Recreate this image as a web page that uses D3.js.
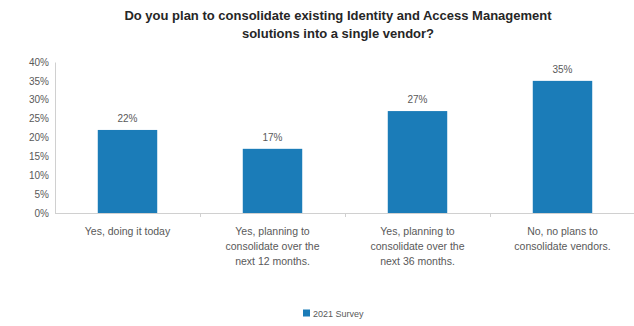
<!DOCTYPE html>
<html>
<head>
<meta charset="utf-8">
<script src="https://cdn.jsdelivr.net/npm/d3@7"></script>
<style>
    body { margin: 0; background: #fff; }
    text { font-family: Arial, "Liberation Sans", sans-serif; }
</style>
</head>
<body>
<svg id="chart" width="634" height="326"></svg>
<script>
// chart data
const categories = [
    ['Yes, doing it today'],
    ['Yes, planning to', 'consolidate over the', 'next 12 months.'],
    ['Yes, planning to', 'consolidate over the', 'next 36 months.'],
    ['No, no plans to', 'consolidate vendors.']
];
const values = [22, 17, 27, 35];
const yTicks = [0, 5, 10, 15, 20, 25, 30, 35, 40];
const titleLines = [
    'Do you plan to consolidate existing Identity and Access Management',
    'solutions into a single vendor?'
];
const seriesName = '2021 Survey';

const barColor = '#1b7cb8';
const textColor = '#595959';
const axisColor = '#d0d0d0';

const svg = d3.select('#chart');

const x = d3.scaleBand()
    .domain(d3.range(categories.length))
    .range([55, 635])
    .paddingInner(0.59)
    .paddingOuter(0.295);

const y = d3.scaleLinear()
    .domain([0, 40])
    .range([213, 62]);

// title
svg.append('g')
    .selectAll('text')
    .data(titleLines)
    .join('text')
    .attr('x', 338)
    .attr('y', (d, i) => 20 + i * 18)
    .attr('text-anchor', 'middle')
    .attr('font-size', 13)
    .attr('font-weight', 'bold')
    .attr('fill', '#262626')
    .text(d => d);

// y axis
const yAxis = svg.append('g')
    .attr('transform', 'translate(55,0)')
    .call(d3.axisLeft(y).tickValues(yTicks).tickFormat(d => d + '%').tickSize(0).tickPadding(6));
yAxis.select('.domain').attr('stroke', axisColor);
yAxis.selectAll('text')
    .attr('font-size', 10)
    .attr('fill', textColor)
    .attr('font-family', 'Arial, "Liberation Sans", sans-serif');

// bars
svg.append('g')
    .selectAll('rect')
    .data(values)
    .join('rect')
    .attr('x', (d, i) => x(i))
    .attr('y', d => y(d))
    .attr('width', x.bandwidth())
    .attr('height', d => y(0) - y(d))
    .attr('fill', barColor);

// value labels
svg.append('g')
    .selectAll('text')
    .data(values)
    .join('text')
    .attr('x', (d, i) => x(i) + x.bandwidth() / 2)
    .attr('y', d => y(d) - 8)
    .attr('text-anchor', 'middle')
    .attr('font-size', 10)
    .attr('fill', textColor)
    .text(d => d + '%');

// x axis line + ticks between categories
const step = x.step();
const xAxis = svg.append('g');
xAxis.append('line')
    .attr('x1', 55).attr('x2', 634)
    .attr('y1', y(0) + 0.5).attr('y2', y(0) + 0.5)
    .attr('stroke', axisColor);
xAxis.selectAll('line.tick')
    .data(d3.range(1, categories.length))
    .join('line')
    .classed('tick', true)
    .attr('x1', i => 55 + i * step + 0.5)
    .attr('x2', i => 55 + i * step + 0.5)
    .attr('y1', y(0))
    .attr('y2', y(0) + 4)
    .attr('stroke', axisColor);

// category labels
const catLabels = svg.append('g')
    .selectAll('text')
    .data(categories)
    .join('text')
    .attr('text-anchor', 'middle')
    .attr('font-size', 10.5)
    .attr('fill', textColor);
catLabels.selectAll('tspan')
    .data((d, i) => d.map(line => ({ line, i })))
    .join('tspan')
    .attr('x', d => x(d.i) + x.bandwidth() / 2)
    .attr('y', (d, j) => 235 + j * 15)
    .text(d => d.line);

// legend
const legend = svg.append('g').attr('transform', 'translate(303,313)');
legend.append('rect')
    .attr('x', 0).attr('y', -3.5)
    .attr('width', 7).attr('height', 7)
    .attr('fill', barColor);
legend.append('text')
    .attr('x', 10)
    .attr('y', 3.5)
    .attr('font-size', 9)
    .attr('fill', textColor)
    .text(seriesName);
</script>
</body>
</html>
